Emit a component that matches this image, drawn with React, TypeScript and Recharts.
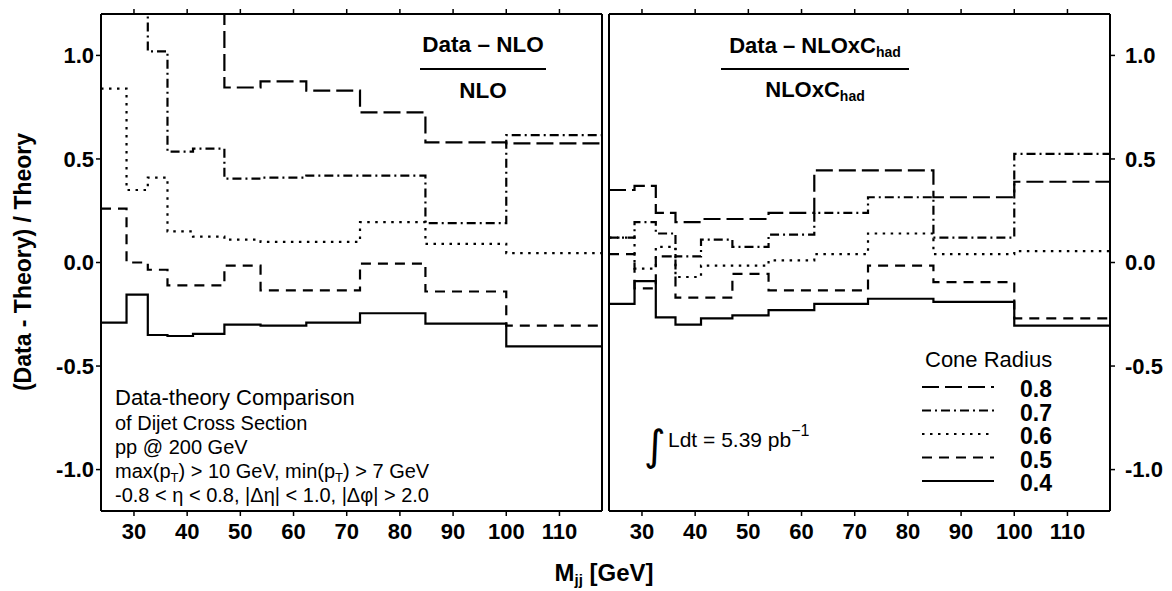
import { LineChart, Line, XAxis, YAxis } from 'recharts';

// bin edges in M_jj [GeV]; each series has one value per bin
const massEdges = [23.8, 28.6, 32.6, 36.3, 41.1, 47.0, 53.8, 62.4, 72.5, 84.8, 100.0, 118.0];
const massTicks = [30, 40, 50, 60, 70, 80, 90, 100, 110];
const ratioTicks = [-1.0, -0.5, 0.0, 0.5, 1.0];
const coneRadii = ['0.8', '0.7', '0.6', '0.5', '0.4'];

// (Data - NLO) / NLO   (1.3 = runs off the top of the frame)
const nloR08 = [1.3, 1.3, 1.3, 1.3, 1.3, 0.845, 0.875, 0.83, 0.725, 0.58, 0.575];
const nloR07 = [1.3, 1.3, 1.02, 0.535, 0.55, 0.405, 0.41, 0.42, 0.42, 0.19, 0.615];
const nloR06 = [0.84, 0.35, 0.41, 0.15, 0.125, 0.11, 0.1, 0.1, 0.195, 0.09, 0.045];
const nloR05 = [0.26, 0.0, -0.035, -0.11, -0.11, -0.015, -0.135, -0.135, -0.005, -0.14, -0.305];
const nloR04 = [-0.29, -0.155, -0.35, -0.355, -0.345, -0.3, -0.305, -0.29, -0.245, -0.295, -0.405];

// (Data - NLOxC_had) / NLOxC_had
const hadR08 = [0.35, 0.37, 0.24, 0.195, 0.21, 0.21, 0.24, 0.445, 0.445, 0.315, 0.39];
const hadR07 = [0.12, 0.195, 0.14, 0.03, 0.11, 0.075, 0.135, 0.24, 0.315, 0.12, 0.525];
const hadR06 = [0.12, -0.03, 0.075, -0.07, -0.015, -0.015, 0.01, 0.04, 0.14, 0.04, 0.055];
const hadR05 = [0.04, -0.125, 0.03, -0.17, -0.17, -0.055, -0.135, -0.135, -0.015, -0.095, -0.27];
const hadR04 = [-0.2, -0.09, -0.265, -0.3, -0.27, -0.255, -0.23, -0.2, -0.175, -0.19, -0.305];

const FONT = '"Liberation Sans", Arial, Helvetica, sans-serif';
const dashFor: Record<string, string | undefined> = {
  '0.8': '17 6',
  '0.7': '9 4 2 4',
  '0.6': '2.5 5.5',
  '0.5': '10 7',
  '0.4': undefined,
};

// stepAfter needs one extra point at the upper edge of the last bin
const toSteps = (series: number[][]) =>
  massEdges.map((m, i) => {
    const row: Record<string, number> = { m };
    series.forEach((vals, k) => {
      row[coneRadii[k]] = vals[Math.min(i, vals.length - 1)];
    });
    return row;
  });

const nloRows = toSteps([nloR08, nloR07, nloR06, nloR05, nloR04]);
const hadRows = toSteps([hadR08, hadR07, hadR06, hadR05, hadR04]);

const noLabel = () => <g />;
const tickFont = { fontSize: 22, fontWeight: 700, fill: '#000', fontFamily: FONT };
const axisLine = { stroke: '#000', strokeWidth: 2 };
const tickLine = { stroke: '#000', strokeWidth: 1.5 };

const Panel = ({ rows, side }: { rows: Record<string, number>[]; side: 'left' | 'right' }) => {
  const isLeft = side === 'left';
  return (
    <LineChart
      width={isLeft ? 620 : 583}
      height={591}
      data={rows}
      margin={isLeft ? { top: 13, right: 17, bottom: 40, left: 41 } : { top: 13, right: 2, bottom: 40, left: 19 }}
    >
      <XAxis
        dataKey="m" type="number" domain={[23.8, 118]} ticks={massTicks} interval={0}
        height={40} tickSize={5} tickMargin={7} tick={tickFont}
        axisLine={axisLine} tickLine={tickLine}
      />
      <XAxis
        xAxisId="top" orientation="top" dataKey="m" type="number" domain={[23.8, 118]}
        ticks={massTicks} interval={0} height={1} tickSize={5} tick={noLabel}
        axisLine={axisLine} tickLine={tickLine}
      />
      <YAxis
        type="number" domain={[-1.2, 1.2]} allowDataOverflow ticks={ratioTicks} interval={0}
        orientation={isLeft ? 'left' : 'right'} width={60} tickSize={5} tickMargin={isLeft ? 2 : 10}
        tick={tickFont} tickFormatter={(v: number) => v.toFixed(1)}
        axisLine={axisLine} tickLine={tickLine}
      />
      <YAxis
        yAxisId="frame" type="number" domain={[-1.2, 1.2]} ticks={[0]}
        orientation={isLeft ? 'right' : 'left'} width={1} tick={false} tickLine={false}
        axisLine={axisLine}
      />
      {coneRadii.map((r) => (
        <Line
          key={r} type="stepAfter" dataKey={r} stroke="#000" strokeWidth={2.2}
          strokeDasharray={dashFor[r]} dot={false} activeDot={false} isAnimationActive={false}
        />
      ))}
    </LineChart>
  );
};

export default function App() {
  return (
    <div style={{ position: 'absolute', left: 0, top: 0, width: 1172, height: 591, background: '#fff' }}>
      <div style={{ position: 'absolute', left: 0, top: 0 }}>
        <Panel rows={nloRows} side="left" />
      </div>
      <div style={{ position: 'absolute', left: 589, top: 0 }}>
        <Panel rows={hadRows} side="right" />
      </div>
      <svg
        width={1172} height={591}
        style={{ position: 'absolute', left: 0, top: 0, pointerEvents: 'none' }}
        fontFamily={FONT} fill="#000"
      >
        <text transform="translate(31,262) rotate(-90)" textAnchor="middle" fontSize={23} fontWeight={700}>
          (Data - Theory) / Theory
        </text>
        <text x={604} y={581} textAnchor="middle" fontSize={24} fontWeight={700}>
          M<tspan fontSize={15} dy={4}>jj</tspan><tspan dy={-4}> [GeV]</tspan>
        </text>

        {/* left fraction */}
        <text x={483} y={52} textAnchor="middle" fontSize={22.5} fontWeight={700}>Data – NLO</text>
        <line x1={420} x2={546} y1={69} y2={69} stroke="#000" strokeWidth={2} />
        <text x={483} y={98} textAnchor="middle" fontSize={22.5} fontWeight={700}>NLO</text>

        {/* right fraction */}
        <text x={815} y={53} textAnchor="middle" fontSize={22} fontWeight={700}>
          Data – NLOxC<tspan fontSize={14} dy={4}>had</tspan>
        </text>
        <line x1={721} x2={909} y1={69} y2={69} stroke="#000" strokeWidth={2} />
        <text x={815} y={97} textAnchor="middle" fontSize={22} fontWeight={700}>
          NLOxC<tspan fontSize={14} dy={4}>had</tspan>
        </text>

        {/* selection notes */}
        <text x={115} y={405} fontSize={22}>Data-theory Comparison</text>
        <text x={115} y={430} fontSize={20}>of Dijet Cross Section</text>
        <text x={115} y={454} fontSize={20}>pp @ 200 GeV</text>
        <text x={115} y={478} fontSize={20}>
          max(p<tspan fontSize={13} dy={4}>T</tspan><tspan dy={-4}>) &gt; 10 GeV, min(p</tspan>
          <tspan fontSize={13} dy={4}>T</tspan><tspan dy={-4}>) &gt; 7 GeV</tspan>
        </text>
        <text x={115} y={502} fontSize={20}>-0.8 &lt; η &lt; 0.8, |Δη| &lt; 1.0, |Δφ| &gt; 2.0</text>

        {/* luminosity */}
        <text x={644} y={460} fontSize={42} fontFamily="DejaVu Sans">∫</text>
        <text x={668} y={447} fontSize={21}>
          Ldt = 5.39 pb<tspan fontSize={16} dy={-11}>−1</tspan>
        </text>

        {/* legend */}
        <text x={925} y={367} fontSize={22}>Cone Radius</text>
        {coneRadii.map((r, i) => {
          const y = 387 + i * 23.5;
          return (
            <g key={r}>
              <line x1={922} x2={994} y1={y} y2={y} stroke="#000" strokeWidth={2.2} strokeDasharray={dashFor[r]} />
              <text x={1020} y={y + 10} fontSize={23} fontWeight={700}>{r}</text>
            </g>
          );
        })}
      </svg>
    </div>
  );
}
